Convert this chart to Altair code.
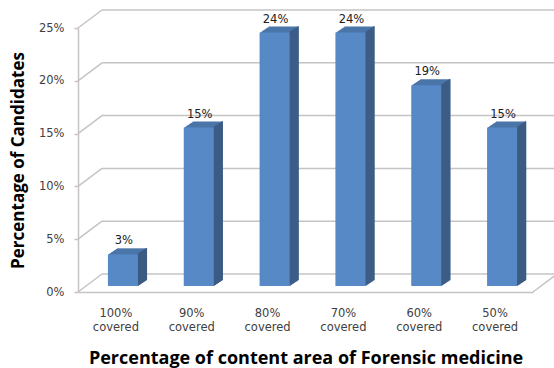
import altair as alt
import pandas as pd

# ---- data ----
categories = ["100% covered", "90% covered", "80% covered", "70% covered", "60% covered", "50% covered"]
values = [3, 15, 24, 24, 19, 15]
y_ticks = [0, 5, 10, 15, 20, 25]

df = pd.DataFrame({"cat": categories, "val": values,
                   "label": [f"{v}%" for v in values]})
grid_df = pd.DataFrame({"tick": y_ticks})
floor_df = pd.DataFrame({"tick": [0]})

# ---- style ----
W, H = 455, 264
DX, DY = 24, 18      # depth of the walls
BX, BY = 7, 6        # bar front offset from front plane
EX, EY = 9, 6        # bar extrusion
BW = 30              # bar width
FRONT, SIDE, TOP = "#5689c6", "#3c5b84", "#4a75a9"
GRID = "#c4c4c4"
TXT = "#404040"
FONT = "DejaVu Sans"
TFONT = "Open Sans"

yscale = alt.Scale(domain=[0, 25], nice=False, zero=True)
xscale = alt.Scale(paddingInner=0.1, paddingOuter=0.05)

xaxis = alt.Axis(title="Percentage of content area of Forensic medicine",
                 labelExpr="split(datum.label, ' ')", labelAngle=0,
                 ticks=False, domainColor=GRID, domainWidth=1.5,
                 labelPadding=15, labelLineHeight=14, labelFont=FONT,
                 labelFontSize=11.5, labelColor=TXT, labelBaseline="top",
                 titleFont=TFONT, titleFontSize=18, titleFontWeight="bold",
                 titleColor="#000000", titleY=71, titleBaseline="alphabetic")
yaxis = alt.Axis(values=y_ticks, labelExpr="datum.value + '%'", grid=False,
                 domainColor=GRID, domainWidth=1.5, tickColor=GRID,
                 tickSize=4, tickWidth=1.5, labelPadding=10, labelFont=FONT,
                 labelFontSize=11.5, labelColor=TXT,
                 title="Percentage of Candidates", titleFont=TFONT,
                 titleFontSize=17, titleFontWeight="bold", titleColor="#000000",
                 titleX=-60, titleBaseline="middle", titleAngle=-90)

X = alt.X("cat:N", sort=categories, scale=xscale, axis=xaxis)
YV = alt.Y("val:Q", scale=yscale, axis=yaxis)
YT = alt.Y("tick:Q", scale=yscale, axis=yaxis)

back_grid = alt.Chart(grid_df).mark_rule(color=GRID, strokeWidth=1.5, yOffset=-DY).encode(
    x=alt.value(DX), x2=alt.value(W + 22), y=YT)

diag_grid = alt.Chart(grid_df).mark_rule(color=GRID, strokeWidth=1.5, y2Offset=-DY).encode(
    x=alt.value(0), x2=alt.value(DX), y=YT, y2=alt.Y2("tick:Q"))

floor_diag = alt.Chart(floor_df).mark_rule(color=GRID, strokeWidth=1.5, y2Offset=-DY).encode(
    x=alt.value(W), x2=alt.value(W + DX), y=YT, y2=alt.Y2("tick:Q"))

layers = [back_grid, diag_grid, floor_diag]

# extrusion (top face colour), drawn behind front
for i in range(1, EX + 1):
    oy = -BY - i * EY / EX
    layers.append(alt.Chart(df).mark_bar(size=BW, color=TOP, xOffset=BX + i,
                                         yOffset=oy, y2Offset=oy).encode(x=X, y=YV))

# side face as vertical rules
for i in range(1, EX + 1):
    oy = -BY - (i - 0.5) * EY / EX
    layers.append(alt.Chart(df).mark_rule(color=SIDE, strokeWidth=1.3,
                                          xOffset=BX + BW / 2 + i - 0.5,
                                          yOffset=oy - 0.6, y2Offset=oy).encode(
        x=X, y=YV, y2=alt.Y2(datum=0)))

front = alt.Chart(df).mark_bar(size=BW, color=FRONT, xOffset=BX,
                               yOffset=-BY, y2Offset=-BY).encode(x=X, y=YV)
layers.append(front)

labels = alt.Chart(df).mark_text(font=FONT, fontSize=11.5, color="#202020",
                                 xOffset=BX + 1, yOffset=-BY - EY - 7,
                                 baseline="middle").encode(x=X, y=YV, text="label:N")
layers.append(labels)

chart = alt.layer(*layers).properties(
    width=W, height=H, autosize="none",
    padding={"left": 78, "top": 28, "right": 21, "bottom": 76},
    background="white"
).configure_view(stroke=None)

chart.save("out.html", embed_options={"renderer": "svg", "actions": False})
